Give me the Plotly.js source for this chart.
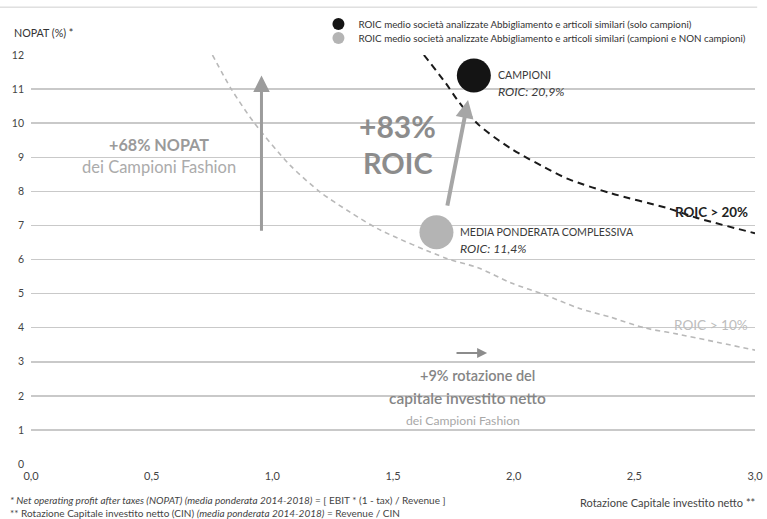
<!DOCTYPE html>
<html>
<head>
<meta charset="utf-8">
<script src="https://cdn.plot.ly/plotly-3.0.1.min.js"></script>
<style>
  html, body { margin: 0; padding: 0; background: #ffffff; }
  #chart { width: 767px; height: 519px; }
</style>
</head>
<body>
<div id="chart"></div>
<script>
// Iso-ROIC curves (NOPAT % vs. net invested capital turnover)
const roic20Rotation = [1.628, 1.719, 1.773, 1.855, 1.99, 2.17, 2.23, 2.40, 2.64, 2.76, 3.0];
const roic20Nopat    = [12.0, 11.17, 10.62, 9.95, 9.25, 8.55, 8.35, 7.95, 7.5, 7.22, 6.77];

const roic10Rotation = [0.752, 0.83, 0.926, 1.073, 1.198, 1.322, 1.446, 1.719, 1.855, 1.99, 2.13, 2.27, 2.40, 2.545, 2.68, 3.0];
const roic10Nopat    = [12.0, 11.0, 10.0, 8.77, 7.98, 7.39, 6.87, 6.04, 5.75, 5.31, 4.96, 4.57, 4.31, 3.99, 3.81, 3.34];

// Weighted averages: champions and overall sample
const groupNames = [
  'ROIC medio società analizzate Abbigliamento e articoli similari (solo campioni)',
  'ROIC medio società analizzate Abbigliamento e articoli similari (campioni e NON campioni)'
];
const groupLabels = ['CAMPIONI', 'MEDIA PONDERATA COMPLESSIVA'];
const groupRotation = [1.835, 1.68];
const groupNopat = [11.4, 6.8];
const groupColors = ['#141414', '#b4b4b4'];

// Axis ticks
const xTicks = [0, 0.5, 1.0, 1.5, 2.0, 2.5, 3.0];
const yTicks = [0, 1, 2, 3, 4, 5, 6, 7, 8, 9, 10, 11, 12];

const FONT = 'Lato, "Open Sans", sans-serif';

function roicLabel(i) {
  const v = groupRotation[i] * groupNopat[i];
  return 'ROIC: ' + v.toFixed(1).replace('.', ',') + '%';
}

const traces = [
  {
    x: roic10Rotation, y: roic10Nopat, type: 'scatter', mode: 'lines',
    line: { color: '#b9b9b9', width: 1.6, dash: '5px,4px', shape: 'spline', smoothing: 0.8 },
    showlegend: false, hoverinfo: 'skip'
  },
  {
    x: roic20Rotation, y: roic20Nopat, type: 'scatter', mode: 'lines',
    line: { color: '#1a1a1a', width: 2, dash: '7px,5px', shape: 'spline', smoothing: 0.8 },
    showlegend: false, hoverinfo: 'skip'
  }
];

// one legend per group so each entry sits on its own line
const legendIds = ['legend', 'legend2'];
groupRotation.forEach((r, i) => {
  traces.push({
    x: [r], y: [groupNopat[i]], type: 'scatter', mode: 'markers',
    name: groupNames[i], legend: legendIds[i],
    marker: { size: 34, color: groupColors[i] },
    cliponaxis: false
  });
});

const annotations = [];

// Labels next to the two points
groupRotation.forEach((r, i) => {
  annotations.push({
    x: r, y: groupNopat[i], xref: 'x', yref: 'y', showarrow: false,
    xanchor: 'left', yanchor: 'middle', xshift: 22, yshift: 0,
    text: groupLabels[i], font: { family: FONT, size: 10.6, color: '#3a3a3a' }
  });
  annotations.push({
    x: r, y: groupNopat[i], xref: 'x', yref: 'y', showarrow: false,
    xanchor: 'left', yanchor: 'middle', xshift: 22, yshift: -16,
    text: '<i>' + roicLabel(i) + '</i>', font: { family: FONT, size: 12.3, color: '#3a3a3a' }
  });
});

// Arrows: NOPAT increase, ROIC increase, turnover increase
annotations.push({
  x: 0.955, y: groupNopat[0], ax: 0.955, ay: groupNopat[1],
  xref: 'x', yref: 'y', axref: 'x', ayref: 'y', text: '',
  showarrow: true, arrowhead: 2, arrowsize: 1.1, arrowwidth: 3, arrowcolor: '#9c9c9c'
});
annotations.push({
  x: 1.811, y: 10.68, ax: 1.724, ay: 7.54,
  xref: 'x', yref: 'y', axref: 'x', ayref: 'y', text: '',
  showarrow: true, arrowhead: 2, arrowsize: 0.9, arrowwidth: 4, arrowcolor: '#a6a6a6'
});
annotations.push({
  x: 1.89, y: 3.26, ax: 1.757, ay: 3.26,
  xref: 'x', yref: 'y', axref: 'x', ayref: 'y', text: '',
  showarrow: true, arrowhead: 2, arrowsize: 1, arrowwidth: 2, arrowcolor: '#8c8c8c'
});

// Commentary texts
function note(x, y, text, size, color, weight, xanchor) {
  annotations.push({
    x: x, y: y, xref: 'x', yref: 'y', showarrow: false,
    xanchor: xanchor || 'center', yanchor: 'middle', text: text,
    font: { family: FONT, size: size, color: color, weight: weight || 400 }
  });
}
note(0.53, 9.36, '+68% NOPAT', 16.2, '#9a9a9a', 700);
note(0.53, 8.71, 'dei Campioni Fashion', 16.5, '#ababab', 400);
note(1.517, 9.92, '+83%', 30, '#8c8c8c', 700);
note(1.521, 8.86, 'ROIC', 29, '#8c8c8c', 700);
note(1.85, 2.61, '+9% rotazione del', 14.5, '#858585', 600);
note(1.81, 1.93, 'capitale investito netto', 15.5, '#858585', 600);
note(1.79, 1.29, 'dei Campioni Fashion', 12.2, '#a8a8a8', 400);
note(2.98, 7.39, 'ROIC > 20%', 13.4, '#222222', 700, 'right');
note(2.98, 4.08, 'ROIC > 10%', 13.6, '#bdbdbd', 400, 'right');

// Axis titles and footnotes
annotations.push({
  x: -0.026, y: 1.056, xref: 'paper', yref: 'paper', showarrow: false,
  xanchor: 'left', yanchor: 'middle', text: 'NOPAT (%) *',
  font: { family: FONT, size: 10.7, color: '#333333' }
});
annotations.push({
  x: 1.003, y: -0.093, xref: 'paper', yref: 'paper', showarrow: false,
  xanchor: 'right', yanchor: 'middle', text: 'Rotazione Capitale investito netto **',
  font: { family: FONT, size: 11, color: '#444444' }
});
annotations.push({
  x: -0.032, y: -0.088, xref: 'paper', yref: 'paper', showarrow: false,
  xanchor: 'left', yanchor: 'middle',
  text: '<i>* Net operating profit after taxes (NOPAT) (media ponderata 2014-2018)</i> = [ EBIT * (1 - tax) / Revenue ]',
  font: { family: FONT, size: 10, color: '#444444' }
});
annotations.push({
  x: -0.032, y: -0.12, xref: 'paper', yref: 'paper', showarrow: false,
  xanchor: 'left', yanchor: 'middle',
  text: '** Rotazione Capitale investito netto (CIN) <i>(media ponderata 2014-2018)</i> = Revenue / CIN',
  font: { family: FONT, size: 10, color: '#444444' }
});

const legendStyle = (y) => ({
  x: 0.397, y: y, xanchor: 'left', yanchor: 'middle',
  itemsizing: 'constant', bgcolor: 'rgba(0,0,0,0)',
  font: { family: FONT, size: 9.8, color: '#333333' }
});

const layout = {
  width: 767, height: 519,
  margin: { l: 31, r: 12, t: 55, b: 55, pad: 0, autoexpand: false },
  paper_bgcolor: '#ffffff', plot_bgcolor: '#ffffff',
  separators: ',.',
  font: { family: FONT, color: '#333333' },
  showlegend: true,
  legend: legendStyle(1.0758),
  legend2: legendStyle(1.0416),
  xaxis: {
    range: [0, 3], tickvals: xTicks, tickformat: '.1f',
    showgrid: false, zeroline: false, showline: false, ticks: '',
    ticklabelstandoff: 4,
    tickfont: { family: FONT, size: 11, color: '#444444' }
  },
  yaxis: {
    range: [0, 12], tickvals: yTicks,
    showgrid: true, gridcolor: '#c9c9c9', gridwidth: 1.5,
    zeroline: false, showline: false, ticks: '', ticklabelstandoff: 6,
    tickfont: { family: FONT, size: 10.5, color: '#444444' }
  },
  shapes: [{
    type: 'line', xref: 'paper', yref: 'paper',
    x0: -0.043, x1: 1.003, y0: 1.117, y1: 1.117,
    line: { color: '#cfcfcf', width: 1 }
  }],
  annotations: annotations
};

Plotly.newPlot('chart', traces, layout, { displayModeBar: false, staticPlot: true });
</script>
</body>
</html>
